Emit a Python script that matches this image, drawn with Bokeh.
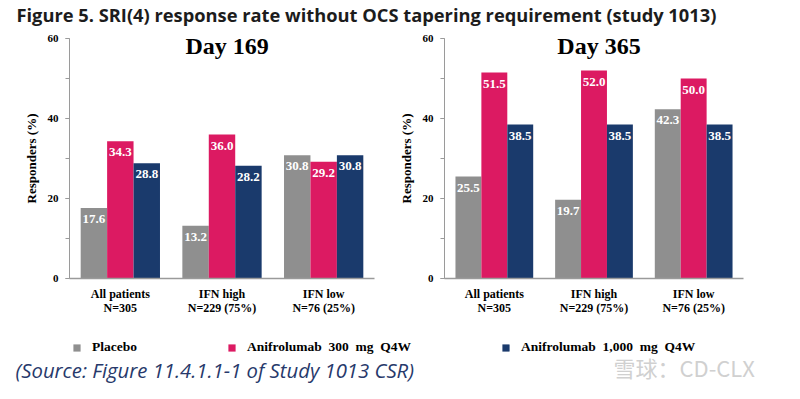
from bokeh.plotting import figure
from bokeh.layouts import column, row
from bokeh.models import (ColumnDataSource, Label, Legend, LegendItem, Range1d,
                          SingleIntervalTicker, FactorRange)
from bokeh.transform import dodge
from bokeh.core.properties import value
from bokeh.embed import file_html
from bokeh.resources import INLINE

# ---------------- data ----------------
categories = ["All patients\nN=305", "IFN high\nN=229 (75%)", "IFN low\nN=76 (25%)"]
series = ["Placebo", "Anifrolumab  300  mg  Q4W", "Anifrolumab  1,000  mg  Q4W"]
day169_placebo = [17.6, 13.2, 30.8]
day169_300 = [34.3, 36.0, 29.2]
day169_1000 = [28.8, 28.2, 30.8]
day365_placebo = [25.5, 19.7, 42.3]
day365_300 = [51.5, 52.0, 50.0]
day365_1000 = [38.5, 38.5, 38.5]
title_text = "Figure 5. SRI(4) response rate without OCS tapering requirement (study 1013)"
source_text = "(Source: Figure 11.4.1.1-1 of Study 1013 CSR)"
watermark_text = "雪球：CD-CLX"

colors = ["#8f8f8f", "#dc1a62", "#1a3a6c"]
SERIF = "Liberation Serif"
SERIF_V = value(SERIF)
AXIS_COLOR = "#9a9a9a"


def make_chart(title, placebo, d300, d1000, width, border_left, border_right):
    p = figure(width=width, height=290, x_range=FactorRange(*categories),
               y_range=Range1d(0, 60), output_backend="svg", toolbar_location=None,
               min_border_left=border_left, min_border_right=border_right,
               min_border_top=10, min_border_bottom=40)
    p.outline_line_color = None
    p.xgrid.grid_line_color = None
    p.ygrid.grid_line_color = None
    src = ColumnDataSource(dict(cat=categories, s0=placebo, s1=d300, s2=d1000,
                                l0=[f"{v:.1f}" for v in placebo],
                                l1=[f"{v:.1f}" for v in d300],
                                l2=[f"{v:.1f}" for v in d1000]))
    offs = [-0.26, 0.0, 0.26]
    for i in range(3):
        p.vbar(x=dodge("cat", offs[i], range=p.x_range), top=f"s{i}", width=0.26,
               source=src, fill_color=colors[i], line_color=None)
        p.text(x=dodge("cat", offs[i], range=p.x_range), y=f"s{i}", text=f"l{i}",
               source=src, text_color="white", text_font=SERIF_V, text_font_style="bold",
               text_font_size="13px", text_align="center", text_baseline="middle",
               y_offset=11)
    # y axis
    p.yaxis.ticker = SingleIntervalTicker(interval=20, num_minor_ticks=2)
    p.yaxis.axis_label = "Responders (%)"
    p.yaxis.axis_label_text_font = SERIF
    p.yaxis.axis_label_text_font_style = "bold"
    p.yaxis.axis_label_text_font_size = "13px"
    p.yaxis.axis_label_text_color = "black"
    p.yaxis.axis_label_standoff = 6
    p.yaxis.major_label_text_font = SERIF
    p.yaxis.major_label_text_font_style = "bold"
    p.yaxis.major_label_text_font_size = "11px"
    p.yaxis.major_label_text_color = "black"
    p.yaxis.major_label_standoff = 7
    p.yaxis.major_tick_out = 4
    p.yaxis.major_tick_in = 0
    p.yaxis.minor_tick_out = 4
    p.yaxis.minor_tick_in = 0
    p.yaxis.axis_line_color = AXIS_COLOR
    p.yaxis.major_tick_line_color = AXIS_COLOR
    p.yaxis.minor_tick_line_color = AXIS_COLOR
    # x axis
    p.xaxis.major_label_text_font = SERIF
    p.xaxis.major_label_text_font_style = "bold"
    p.xaxis.major_label_text_font_size = "12px"
    p.xaxis.major_label_text_color = "black"
    p.xaxis.major_label_text_line_height = 1.0
    p.xaxis.major_label_standoff = 2
    p.xaxis.major_tick_line_color = None
    p.xaxis.axis_line_color = AXIS_COLOR
    p.xaxis.axis_line_width = 1.5
    # chart title inside the frame
    p.add_layout(Label(x=1.55, y=58.2, text=title, text_font=SERIF, text_font_style="bold",
                       text_font_size="24px", text_align="center", text_baseline="middle",
                       text_color="black"))
    return p


left = make_chart("Day 169", day169_placebo, day169_300, day169_1000, 395, 69, 21)
right = make_chart("Day 365", day365_placebo, day365_300, day365_1000, 389, 45, 41)

# title strip
top = figure(width=784, height=28, x_range=Range1d(0, 784), y_range=Range1d(0, 28),
             output_backend="svg", toolbar_location=None, min_border=0)
top.axis.visible = False
top.grid.visible = False
top.outline_line_color = None
top.add_layout(Label(x=16, y=14, text=title_text, text_font="Open Sans", text_font_style="bold",
                     text_font_size="18.3px", text_baseline="middle", text_color="#1c1c1c"))

# bottom strip: legend + source + watermark
bottom = figure(width=784, height=65, x_range=Range1d(0, 784), y_range=Range1d(0, 65),
                output_backend="svg", toolbar_location=None, min_border=0)
bottom.axis.visible = False
bottom.grid.visible = False
bottom.outline_line_color = None
items = []
nan = float("nan")
for i in range(3):
    r = bottom.vbar(x=[nan], top=[nan], width=1, fill_color=colors[i], line_color=None)
    items.append(LegendItem(label=series[i], renderers=[r]))
legend = Legend(items=items, orientation="horizontal", location=(72, 28),
                glyph_width=9, glyph_height=9, label_height=16, label_standoff=11,
                spacing=90, padding=0, margin=0, border_line_color=None,
                background_fill_alpha=0, label_text_font=SERIF,
                label_text_font_style="bold", label_text_font_size="13.5px",
                label_text_color="black")
bottom.add_layout(legend)
bottom.add_layout(Label(x=15, y=14, text=source_text, text_font="Open Sans", text_font_style="italic",
                        text_font_size="20.3px", text_baseline="middle", text_color="#27396b"))
bottom.add_layout(Label(x=613, y=17, text=watermark_text, text_font="Noto Sans CJK SC",
                        text_font_size="22px", text_baseline="middle", text_color="#d0d0d0"))

layout = column(top, row(left, right), bottom)
open("out.html", "w").write(file_html(layout, INLINE))
